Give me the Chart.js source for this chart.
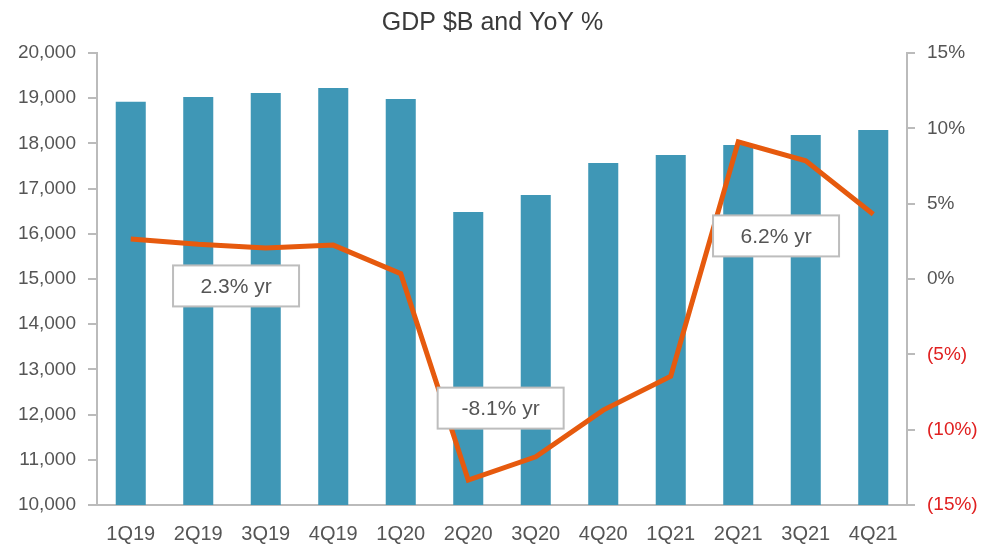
<!DOCTYPE html>
<html><head><meta charset="utf-8">
<script src="https://cdn.jsdelivr.net/npm/chart.js@4.4.1/dist/chart.umd.min.js"></script>
<style>html,body{margin:0;padding:0;background:#fff}#wrap{width:985px;height:544px}</style>
</head><body><div id="wrap"><canvas id="c" width="985" height="544"></canvas></div>
<script>
const categories = ['1Q19','2Q19','3Q19','4Q19','1Q20','2Q20','3Q20','4Q20','1Q21','2Q21','3Q21','4Q21'];
const gdpBillions = [18920,19025,19115,19225,18980,16480,16860,17565,17745,17965,18185,18295];
const yoyPercent = [2.65,2.3,2.05,2.25,0.35,-13.35,-11.8,-8.7,-6.45,9.1,7.85,4.3];
const annotationTexts = ['2.3% yr','-8.1% yr','6.2% yr'];
const annotationX = [1.56,5.48,9.56];
const annotationY = [-0.46,-8.57,2.86];

const boxPlugin = {
  id:'boxes',
  afterDatasetsDraw(chart){
    const ctx = chart.ctx, xs = chart.scales.x, ys = chart.scales.y1;
    const step = xs.getPixelForValue(1) - xs.getPixelForValue(0);
    annotationTexts.forEach((t,i)=>{
      const cx = xs.getPixelForValue(0) + annotationX[i]*step;
      const cy = ys.getPixelForValue(annotationY[i]);
      const w = 126, h = 41;
      ctx.save();
      ctx.fillStyle = '#fff';
      ctx.fillRect(cx-w/2, cy-h/2, w, h);
      ctx.strokeStyle = '#bdbdbd';
      ctx.lineWidth = 2;
      ctx.strokeRect(cx-w/2, cy-h/2, w, h);
      ctx.fillStyle = '#555';
      ctx.font = '21px "Liberation Sans", Arial, sans-serif';
      ctx.textAlign = 'center';
      ctx.textBaseline = 'middle';
      ctx.fillText(t, cx, cy+1);
      ctx.restore();
    });
  }
};

Chart.defaults.font.family = '"Liberation Sans", Arial, sans-serif';
Chart.defaults.color = '#555';

new Chart(document.getElementById('c'), {
  data: {
    labels: categories,
    datasets: [
      {type:'line', label:'YoY %', data: yoyPercent, yAxisID:'y1', borderColor:'#e65a0e', borderWidth:5, pointRadius:0, tension:0, order:0, borderJoinStyle:'miter'},
      {type:'bar', label:'GDP $B', data: gdpBillions, yAxisID:'y', backgroundColor:'#3f97b6', barPercentage:0.445, categoryPercentage:1.0, order:1}
    ]
  },
  options: {
    responsive:false, animation:false,
    layout:{padding:{left:0,right:0,top:0,bottom:0}},
    plugins:{
      legend:{display:false},
      tooltip:{enabled:false},
      title:{display:true, text:'GDP $B and YoY %', color:'#3a3a3a', font:{size:25, weight:'normal'}, padding:{top:8,bottom:15}}
    },
    scales:{
      x:{
        grid:{display:false},
        border:{display:true, color:'#bbb', width:2},
        ticks:{font:{size:20}, color:'#555', padding:9},
        afterFit:s=>{s.height = 39;}
      },
      y:{
        position:'left', min:10000, max:20000,
        ticks:{stepSize:1000, font:{size:19}, color:'#555', padding:12,
          callback:v=>v.toLocaleString('en-US')},
        grid:{drawOnChartArea:false, drawTicks:true, tickLength:9, color:'#bbb', lineWidth:2},
        border:{display:true, color:'#bbb', width:2},
        afterFit:s=>{s.width = 97;}
      },
      y1:{
        position:'right', min:-15, max:15,
        ticks:{stepSize:5, font:{size:19}, padding:12,
          color:ctx=> ctx.tick && ctx.tick.value < 0 ? '#e02020' : '#555',
          callback:v=> v<0 ? '('+Math.abs(v)+'%)' : v+'%'},
        grid:{drawOnChartArea:false, drawTicks:true, tickLength:8, color:'#bbb', lineWidth:2},
        border:{display:true, color:'#bbb', width:2},
        afterFit:s=>{s.width = 78;}
      }
    }
  },
  plugins:[boxPlugin]
});
</script></body></html>
